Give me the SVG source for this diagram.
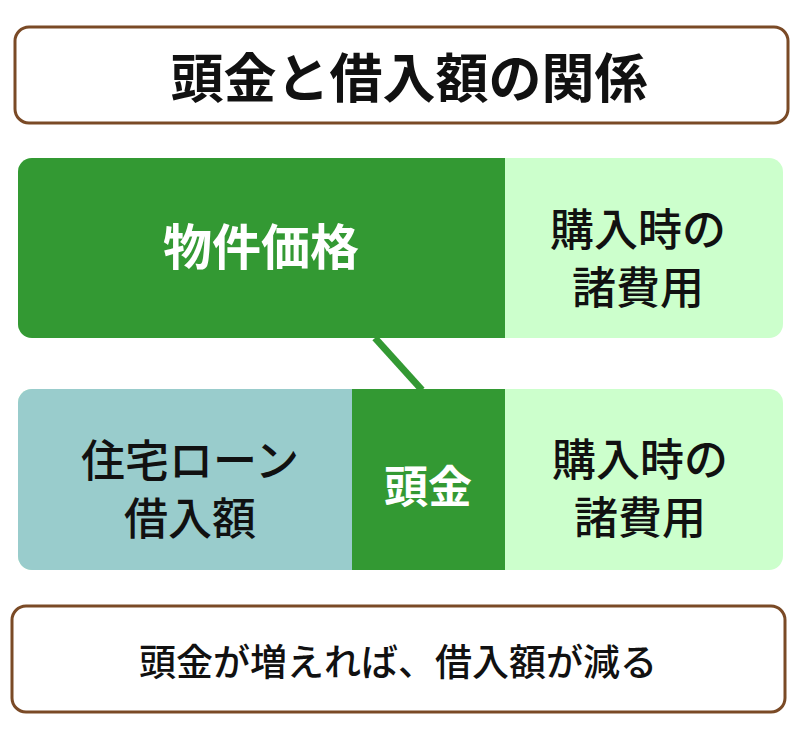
<svg xmlns="http://www.w3.org/2000/svg" width="800" height="746" viewBox="0 0 800 746">
<style>
.box{fill:#fff;stroke:#7a4a26;stroke-width:3}
text{font-family:"Noto Sans CJK JP","Noto Sans",sans-serif;text-anchor:middle;dominant-baseline:central}
.w{fill:#fff;font-weight:bold}
.b{fill:#111;font-weight:500;font-size:44px}
</style>
<rect width="800" height="746" fill="#fff"/>
<g id="title"><rect class="box" x="15" y="27" width="773" height="96" rx="14"/><text x="409" y="75" font-size="53" font-weight="bold" fill="#111">頭金と借入額の関係</text></g>
<g id="connectors"><line x1="375" y1="338" x2="422" y2="390" stroke="#339933" stroke-width="7"/></g>
<g id="top">
<rect x="18" y="158" width="765" height="180" rx="14" fill="#ccffcc"/>
<path d="M32 158H505V338H32A14 14 0 0 1 18 324V172A14 14 0 0 1 32 158Z" fill="#339933"/>
<text class="w" x="261" y="243" font-size="49">物件価格</text>
<text class="b" x="638" y="227">購入時の</text><text class="b" x="638" y="285">諸費用</text>
</g>
<g id="bottom">
<rect x="18" y="389" width="765" height="181" rx="14" fill="#ccffcc"/>
<path d="M32 389H352V570H32A14 14 0 0 1 18 556V403A14 14 0 0 1 32 389Z" fill="#99cccc"/>
<rect x="352" y="389" width="153" height="181" fill="#339933"/>
<text class="b" x="190" y="458">住宅ローン</text><text class="b" x="190" y="516">借入額</text>
<text class="w" x="428" y="484" font-size="44">頭金</text>
<text class="b" x="640" y="457">購入時の</text><text class="b" x="640" y="515">諸費用</text>
</g>
<g id="note"><rect class="box" x="12" y="606" width="773" height="106" rx="14"/><text x="398" y="660" font-size="37" font-weight="500" fill="#111">頭金が増えれば、借入額が減る</text></g>
</svg>
